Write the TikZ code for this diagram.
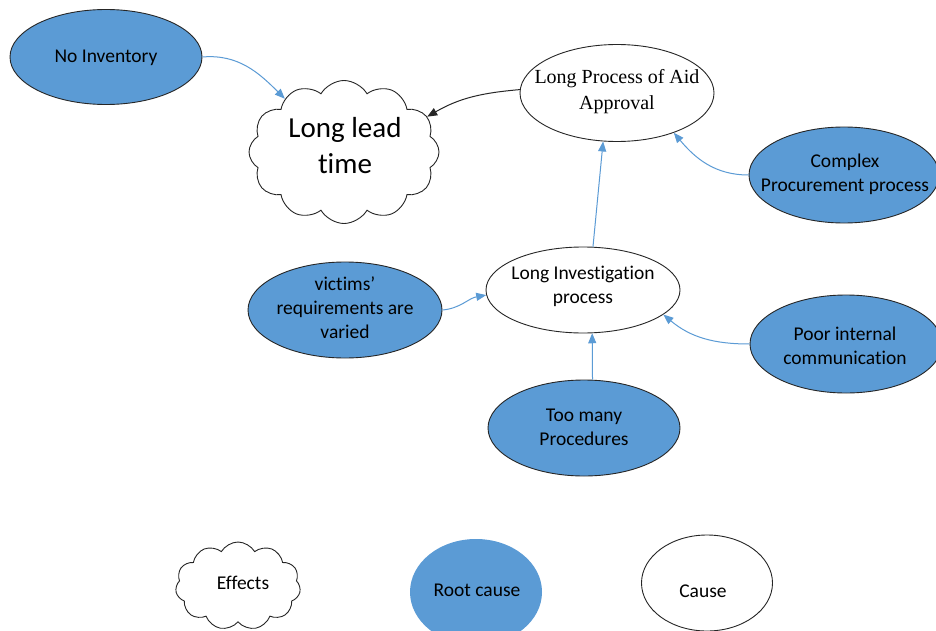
\documentclass[tikz,border=0pt]{standalone}
\usepackage{fontspec}
\setmainfont[Ligatures=NoCommon]{Carlito}
\newfontfamily\serifface{Liberation Serif}
\usetikzlibrary{shapes.geometric,shapes.symbols,arrows.meta}
\definecolor{rootblue}{HTML}{5B9BD5}
\definecolor{edgegray}{HTML}{262626}
\begin{document}
\begin{tikzpicture}[x=1pt,y=1pt,
  shapeline/.style={draw=edgegray, line width=0.9pt},
  rootcause/.style={ellipse, shapeline, fill=rootblue, inner sep=0pt},
  causeoval/.style={ellipse, shapeline, fill=white, inner sep=0pt},
  effectcloud/.style={cloud, cloud puffs=12, cloud puff arc=120, cloud ignores aspect,
    shapeline, fill=white, inner sep=0pt},
  txt/.style={align=center, inner sep=0pt, text=black,
    font=\fontsize{19.5}{24}\selectfont},
  causelink/.style={draw=rootblue, line width=1pt, -{Triangle[length=10pt,width=8pt]}},
  effectlink/.style={draw=edgegray, line width=1pt, -{Triangle[length=10pt,width=8pt]}},
]
% canvas
\path[use as bounding box, fill=white] (0,0) rectangle (936,-631);
\clip (0,0) rectangle (936,-631);

% effect
\node[effectcloud, minimum width=190, minimum height=143] (lead) at (344,-152) {};
\node[txt, font=\fontsize{29}{36}\selectfont] (leadtext) at (345,-146) {Long lead\\time};

% causes
\node[causeoval, minimum width=194, minimum height=97] (aid) at (617,-93) {};
\node[txt, font=\serifface\fontsize{20}{26}\selectfont] (aidtext) at (617,-92) {Long Process of Aid\\Approval};

\node[causeoval, minimum width=194, minimum height=86] (inv) at (583,-290) {};
\node[txt] (invtext) at (583,-286) {Long Investigation\\process};

% root causes
\node[rootcause, minimum width=192, minimum height=95] (noinv) at (106,-57) {};
\node[txt] (noinvtext) at (106,-58) {No Inventory};

\node[rootcause, minimum width=190, minimum height=96] (proc) at (844,-175) {};
\node[txt] (proctext) at (845,-174) {Complex\\Procurement process};

\node[rootcause, minimum width=194, minimum height=96] (vict) at (345,-310) {};
\node[txt] (victtext) at (345,-308) {victims’\\requirements are\\varied};

\node[rootcause, minimum width=192, minimum height=96] (tmp) at (584,-428) {};
\node[txt] (tmptext) at (584,-427) {Too many\\Procedures};

\node[rootcause, minimum width=192, minimum height=98] (comm) at (846,-344) {};
\node[txt] (commtext) at (845,-346) {Poor internal\\communication};

% links
\draw[causelink] (noinv.east) to[out=5,in=135] (lead.138);
\draw[effectlink] (aid.178) to[out=185,in=30] (lead.23);
\draw[causelink] (inv.77) -- (aid.-106);
\draw[causelink] (proc.west) to[out=180,in=-50] (aid.-35);
\draw[causelink] (vict.east) to[out=5,in=190] (inv.183);
\draw[causelink] (tmp.80) -- (inv.-78);
\draw[causelink] (comm.west) to[out=180,in=-40] (inv.-17);

% legend
\node[effectcloud, cloud puffs=11, minimum width=125, minimum height=88] (lgeffect) at (238,-586) {};
\node[txt] (lgeffecttext) at (243,-583) {Effects};

\node[ellipse, fill=rootblue, inner sep=0pt, minimum width=132, minimum height=106] (lgroot) at (476,-592) {};
\node[txt] (lgroottext) at (477,-590) {Root cause};

\node[causeoval, minimum width=131, minimum height=96] (lgcause) at (707,-583) {};
\node[txt] (lgcausetext) at (703,-591) {Cause};
\end{tikzpicture}
\end{document}
